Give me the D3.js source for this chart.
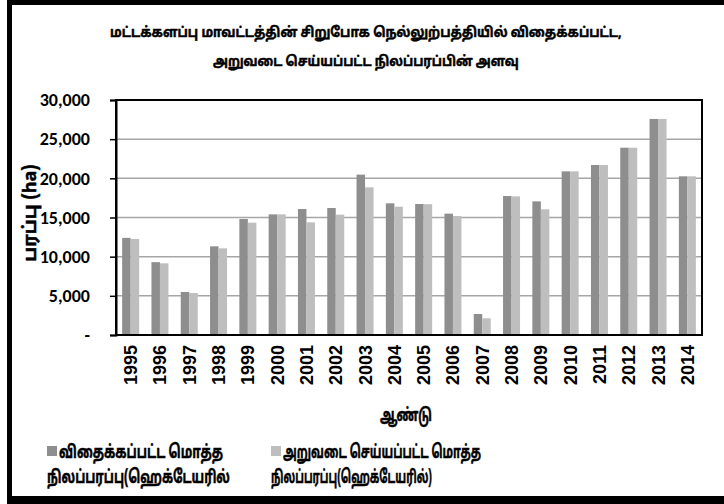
<!DOCTYPE html>
<html><head><meta charset="utf-8">
<script src="https://cdn.jsdelivr.net/npm/d3@7"></script>
<style>body{margin:0;background:#fff}svg{display:block}</style>
</head><body>
<script>
const years = ["1995","1996","1997","1998","1999","2000","2001","2002","2003","2004","2005","2006","2007","2008","2009","2010","2011","2012","2013","2014"];
const sown = [12400,9300,5490,11320,14810,15400,16080,16210,20470,16810,16720,15490,2680,17740,17060,20890,21700,23910,27580,20260];
const harvested = [12260,9150,5360,11060,14340,15400,14380,15360,18850,16380,16700,15190,2130,17700,16040,20890,21700,23910,27580,20260];
const seriesNames = [["விதைக்கப்பட்ட மொத்த","நிலப்பரப்பு(ஹெக்டேயரில்"],["அறுவடை செய்யப்பட்ட மொத்த","நிலப்பரப்பு(ஹெக்டேயரில்)"]];
const yTicks = [0,5000,10000,15000,20000,25000,30000];
const titleLines = ["மட்டக்களப்பு மாவட்டத்தின் சிறுபோக நெல்லுற்பத்தியில் விதைக்கப்பட்ட,","அறுவடை செய்யப்பட்ட நிலப்பரப்பின் அளவு"];
const colors = ["#8e8e8e","#bebebe"];

const W=724,H=504;
const svg=d3.select("body").append("svg").attr("width",W).attr("height",H);
const tamil = "'Latha','Noto Sans Tamil','Lohit Tamil',Arial,sans-serif";
const numFont = "Carlito,Calibri,'Liberation Sans',Arial,sans-serif";

// place a text and squeeze it horizontally to a target width
function fitText(parent, str, x, y, w, size, anchor, rotate){
  const t=parent.append("text").attr("font-family",tamil).attr("font-weight","bold")
    .attr("font-size",size).attr("stroke","#000").attr("stroke-width",0.5).text(str);
  const nat=t.node().getComputedTextLength();
  const s=Math.min(1,w/nat);
  const off = anchor==="middle" ? -nat/2 : 0;
  t.attr("x",off).attr("y",0)
   .attr("transform",`translate(${x},${y})${rotate?` rotate(${rotate})`:""} scale(${s},1)`);
  return t;
}

// outer border
svg.append("rect").attr("x",9.5).attr("y",2.5).attr("width",740).attr("height",497.5)
  .attr("fill","#fff").attr("stroke","#000").attr("stroke-width",5);
svg.append("rect").attr("x",7).attr("y",496).attr("width",720).attr("height",8).attr("fill","#000");

const m={l:116,r:702,t:100,b:335};
const x=d3.scaleBand().domain(years).range([m.l,m.r]).paddingInner(0.42).paddingOuter(0.21);
const x1=d3.scaleBand().domain([0,1]).range([0,x.bandwidth()]);
const y=d3.scaleLinear().domain([0,30000]).range([m.b,m.t]);

// gridlines
svg.append("g").selectAll("line").data(yTicks.slice(1)).join("line")
  .attr("x1",m.l).attr("x2",m.r).attr("y1",d=>y(d)).attr("y2",d=>y(d))
  .attr("stroke","#a6a6a6").attr("stroke-width",1.5);

// bars
const data=years.map((yr,i)=>({yr,v:[sown[i],harvested[i]]}));
const g=svg.append("g");
g.selectAll("g").data(data).join("g").attr("transform",d=>`translate(${x(d.yr)},0)`)
  .selectAll("rect").data(d=>d.v.map((v,k)=>({v,k}))).join("rect")
  .attr("x",d=>x1(d.k)).attr("width",x1.bandwidth())
  .attr("y",d=>y(d.v)).attr("height",d=>y(0)-y(d.v)).attr("fill",d=>colors[d.k]);

// frame
svg.append("rect").attr("x",m.l).attr("y",m.t).attr("width",m.r-m.l).attr("height",m.b-m.t)
  .attr("fill","none").attr("stroke","#000").attr("stroke-width",2);

// y axis
const ya=svg.append("g").attr("transform",`translate(${m.l},0)`)
  .call(d3.axisLeft(y).tickValues(yTicks).tickSize(6).tickPadding(20)
    .tickFormat(d=>d===0?"-":d3.format(",")(d)));
ya.select(".domain").attr("stroke","#000").attr("stroke-width",2);
ya.selectAll(".tick line").attr("stroke","#000").attr("stroke-width",1.5);
ya.selectAll(".tick text").attr("font-family",numFont).attr("font-weight","bold").attr("font-size",18).attr("fill","#000");

// x axis
const xa=svg.append("g").attr("transform",`translate(0,${m.b})`).call(d3.axisBottom(x).tickSize(0));
xa.select(".domain").remove();
xa.selectAll(".tick text").attr("font-family","'Liberation Sans',Arial,sans-serif").attr("font-weight","bold").attr("font-size",18).attr("fill","#000")
  .attr("transform","rotate(-90)").attr("text-anchor","end").attr("dx","-10").attr("dy","0.36em").attr("x",0).attr("y",0);

// y title
const yt=svg.append("text").attr("transform","translate(36,213) rotate(-90)").attr("text-anchor","middle")
  .attr("font-family",tamil).attr("font-weight","bold").attr("font-size",18).text("பரப்பு (ha)")
  .attr("stroke","#000").attr("stroke-width",0.5);
{ const n=yt.node().getComputedTextLength(); yt.attr("transform",`translate(36,213) rotate(-90) scale(${Math.min(1,100/n)},1)`); }

// x title
fitText(svg,"ஆண்டு",406,421,52,18,"middle");

// title
const tl=[512,306];
titleLines.forEach((s,i)=>fitText(svg,s,366,37+i*29,tl[i],14,"middle"));

// legend
const lx=[47,271];
const lw=[[164,183],[198,161]];
seriesNames.forEach((lines,i)=>{
  svg.append("rect").attr("x",lx[i]).attr("y",446).attr("width",10).attr("height",10).attr("fill",colors[i]);
  lines.forEach((s,j)=>fitText(svg,s,lx[i]+(j===0?12:0),458+j*25,lw[i][j],18,"start"));
});
</script>
</body></html>
